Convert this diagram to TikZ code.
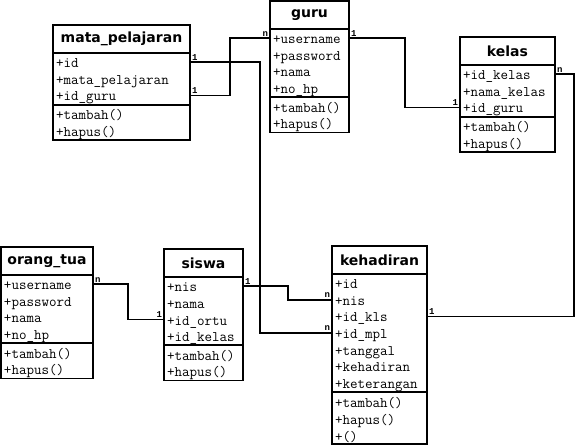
\documentclass[tikz,border=0pt]{standalone}
\usepackage{fontspec}
\newfontfamily\judulfont{DejaVu Sans}
\newfontfamily\kardfont{Liberation Mono}
\usetikzlibrary{positioning}

\begin{document}
\begin{tikzpicture}[x=1pt, y=-1pt,
	judul/.style={draw, line width=1.8pt, outer sep=0pt, inner xsep=3pt, inner ysep=0pt, minimum height=28pt, align=center, font=\judulfont\bfseries\fontsize{14pt}{16pt}\selectfont},
	isi/.style={draw, line width=1.8pt, outer sep=0pt, inner xsep=3pt, inner ysep=0pt, align=left, font=\ttfamily\fontsize{14.6pt}{16.6pt}\selectfont, execute at begin node=\rule{0pt}{14pt}},
	relasi/.style={line width=1.8pt},
	kard/.style={font=\kardfont\bfseries\fontsize{9pt}{9pt}\selectfont, inner sep=1.2pt}]
		\useasboundingbox (0,0) rectangle (576,446);

		% Kelas mata_pelajaran
		\node[judul, text width=131pt, anchor=north west] (mp) at (53,25) {mata\_pelajaran};
		\node[isi, text width=131pt, minimum height=51.8pt, below=0pt of mp] (mp-a) {+id\\+mata\_pelajaran\\+id\_guru};
		\node[isi, text width=131pt, minimum height=35.2pt, below=0pt of mp-a] (mp-m) {+tambah()\\+hapus()};

		% Kelas guru
		\node[judul, text width=73pt, anchor=north west] (guru) at (270,1) {guru};
		\node[isi, text width=73pt, minimum height=68.4pt, below=0pt of guru] (guru-a) {+username\\+password\\+nama\\+no\_hp};
		\node[isi, text width=73pt, minimum height=35.2pt, below=0pt of guru-a] (guru-m) {+tambah()\\+hapus()};

		% Kelas kelas
		\node[judul, text width=89pt, anchor=north west] (kelas) at (460,37) {kelas};
		\node[isi, text width=89pt, minimum height=51.8pt, below=0pt of kelas] (kelas-a) {+id\_kelas\\+nama\_kelas\\+id\_guru};
		\node[isi, text width=89pt, minimum height=35.2pt, below=0pt of kelas-a] (kelas-m) {+tambah()\\+hapus()};

		% Kelas orang_tua
		\node[judul, text width=86pt, anchor=north west] (ot) at (1,247) {orang\_tua};
		\node[isi, text width=86pt, minimum height=68.4pt, below=0pt of ot] (ot-a) {+username\\+password\\+nama\\+no\_hp};
		\node[isi, text width=86pt, minimum height=35.2pt, below=0pt of ot-a] (ot-m) {+tambah()\\+hapus()};

		% Kelas siswa
		\node[judul, text width=73pt, anchor=north west] (siswa) at (164,249) {siswa};
		\node[isi, text width=73pt, minimum height=68.4pt, below=0pt of siswa] (siswa-a) {+nis\\+nama\\+id\_ortu\\+id\_kelas};
		\node[isi, text width=73pt, minimum height=35.2pt, below=0pt of siswa-a] (siswa-m) {+tambah()\\+hapus()};

		% Kelas kehadiran
		\node[judul, text width=89pt, anchor=north west] (keh) at (332,246) {kehadiran};
		\node[isi, text width=89pt, minimum height=118.2pt, below=0pt of keh] (keh-a) {+id\\+nis\\+id\_kls\\+id\_mpl\\+tanggal\\+kehadiran\\+keterangan};
		\node[isi, text width=89pt, minimum height=51.8pt, below=0pt of keh-a] (keh-m) {+tambah()\\+hapus()\\+()};

		% Relasi
		\draw[relasi] ([yshift=-9.3pt]mp-a.north east) node[kard, above right] {1} -- ++(70,0) |- ([yshift=-59.1pt]keh-a.north west) node[kard, above left] {n};
		\draw[relasi] ([yshift=-42.5pt]mp-a.north east) node[kard, above right] {1} -- ++(40,0) |- ([yshift=-9.3pt]guru-a.north west) node[kard, above left] {n};
		\draw[relasi] ([yshift=-9.3pt]guru-a.north east) node[kard, above right] {1} -- ++(56,0) |- ([yshift=-42.5pt]kelas-a.north west) node[kard, above left] {1};
		\draw[relasi] ([yshift=-9.3pt]kelas-a.north east) node[kard, above right] {n} -- ++(19,0) |- ([yshift=-42.5pt]keh-a.north east) node[kard, above right] {1};
		\draw[relasi] ([yshift=-9.3pt]ot-a.north east) node[kard, above right] {n} -- ++(35,0) |- ([yshift=-42.5pt]siswa-a.north west) node[kard, above left] {1};
		\draw[relasi] ([yshift=-9.3pt]siswa-a.north east) node[kard, above right] {1} -- ++(45,0) |- ([yshift=-25.9pt]keh-a.north west) node[kard, above left] {n};
	\end{tikzpicture}
\end{document}
